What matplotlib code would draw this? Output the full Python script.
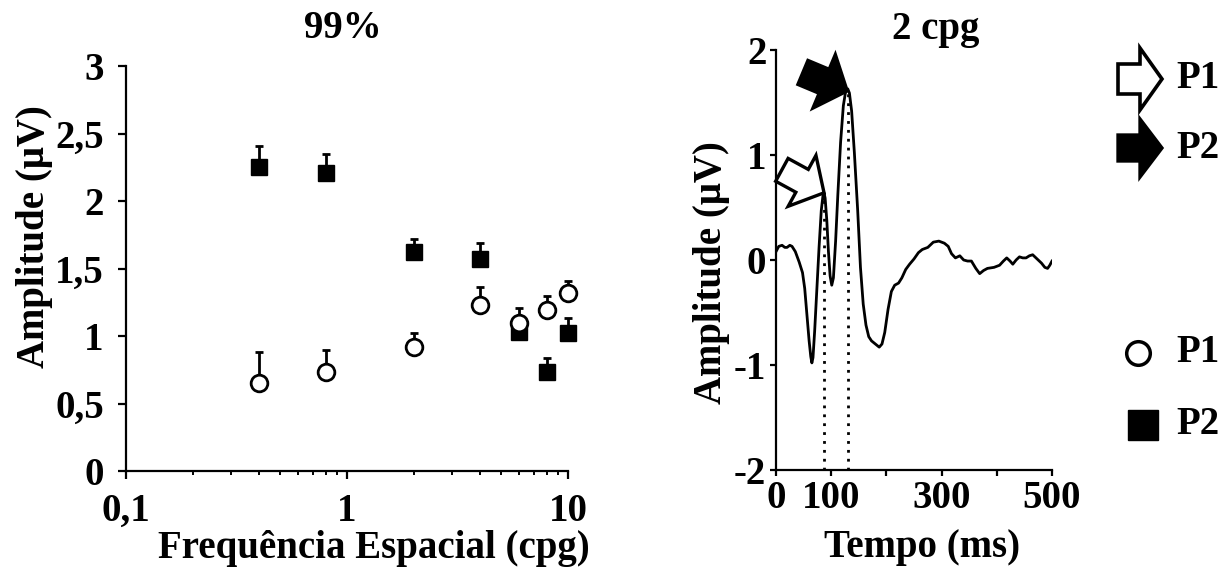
import numpy as np
import matplotlib
matplotlib.use('Agg')
import matplotlib.pyplot as plt
from matplotlib.ticker import FuncFormatter, FixedLocator, NullFormatter
from matplotlib.patches import Polygon
from matplotlib.transforms import Affine2D, ScaledTranslation

plt.rcParams['font.family'] = ['Liberation Serif', 'DejaVu Serif']
plt.rcParams['font.weight'] = 'bold'
plt.rcParams['axes.labelweight'] = 'bold'
plt.rcParams['axes.titleweight'] = 'bold'
plt.rcParams['axes.unicode_minus'] = False

# amplitude vs spatial frequency (99% contrast)
freq = [0.4, 0.8, 2, 4, 6, 8, 10]
p1_amp = [0.65, 0.73, 0.92, 1.23, 1.10, 1.19, 1.32]
p1_err = [0.23, 0.17, 0.10, 0.13, 0.11, 0.11, 0.09]
p2_amp = [2.25, 2.21, 1.62, 1.57, 1.03, 0.73, 1.02]
p2_err = [0.16, 0.14, 0.10, 0.12, 0.10, 0.11, 0.11]

# VEP waveform at 2 cpg
tempo = [0, 5, 11, 16, 20, 25, 29, 35, 42, 48,
         52, 56, 60, 63, 65, 67, 70, 74, 78, 82,
         85, 87, 89, 92, 95, 98, 101, 104, 108, 112,
         117, 122, 126, 130, 133, 137, 142, 148, 153, 158,
         163, 168, 173, 180, 187, 192, 197, 203, 209, 215,
         222, 228, 235, 242, 250, 258, 265, 275, 285, 295,
         305, 312, 318, 325, 333, 340, 347, 354, 362, 369,
         376, 383, 395, 405, 412, 418, 424, 429, 435, 441,
         447, 453, 459, 465, 473, 481, 487, 492, 496, 500]
amp = [0.08, 0.13, 0.14, 0.12, 0.12, 0.14, 0.13, 0.08, -0.02, -0.12,
       -0.27, -0.52, -0.77, -0.92, -0.98, -0.93, -0.68, -0.28, 0.12, 0.47,
       0.61, 0.64, 0.59, 0.38, 0.08, -0.15, -0.24, -0.17, 0.18, 0.62,
       1.12, 1.47, 1.60, 1.63, 1.59, 1.42, 1.02, 0.47, -0.07, -0.42,
       -0.62, -0.73, -0.77, -0.80, -0.83, -0.80, -0.69, -0.47, -0.30, -0.24,
       -0.22, -0.17, -0.09, -0.04, 0.01, 0.07, 0.10, 0.12, 0.17, 0.18,
       0.16, 0.13, 0.06, 0.02, 0.04, 0.00, -0.01, -0.01, -0.08, -0.13,
       -0.10, -0.08, -0.07, -0.05, -0.01, 0.02, -0.01, -0.04, 0.00, 0.03,
       0.02, 0.02, 0.04, 0.05, 0.01, -0.03, -0.07, -0.08, -0.05, -0.01]
p1_lat = 87
p2_lat = 130

fs = 28
W, H = 1231, 571
fig = plt.figure(figsize=(W/100, H/100), dpi=100)

def style_axes(ax, tick_len, pad):
    ax.spines['top'].set_visible(False)
    ax.spines['right'].set_visible(False)
    ax.spines['left'].set_linewidth(1.6)
    ax.spines['bottom'].set_linewidth(1.6)
    ax.tick_params(axis='both', which='major', direction='out', length=tick_len, width=1.6,
                   labelsize=fs, pad=pad)
    ax.tick_params(axis='both', which='minor', direction='out', length=3, width=1.4)

comma = FuncFormatter(lambda v, pos: ('%g' % v).replace('.', ','))

def block_arrow(ax, x, y, angle, face, L=48, hl=25, hw=29, sw=13, lw=2.4):
    # fat block arrow drawn in pixels, tip sitting on (x, y) in data coords
    pts = [(0, 0), (-hl, hw), (-hl, sw), (-L, sw), (-L, -sw), (-hl, -sw), (-hl, -hw)]
    tr = Affine2D().rotate_deg(angle) + ScaledTranslation(x, y, ax.transData)
    ax.add_patch(Polygon(pts, closed=True, transform=tr, fc=face, ec='k', lw=lw,
                         joinstyle='miter', clip_on=False, zorder=5))

# ---- left: amplitude vs spatial frequency ----
ax1 = fig.add_axes([126/W, 1-471/H, 442/W, 405/H])
ax1.set_xscale('log')
ax1.set_xlim(0.1, 10)
ax1.set_ylim(0, 3)
for vals, errs in [(p2_amp, p2_err), (p1_amp, p1_err)]:
    eb = ax1.errorbar(freq, vals, yerr=[np.zeros(len(freq)), errs], fmt='none', ecolor='k',
                      elinewidth=2, capsize=3, capthick=2)
    for a in eb.lines[1] + eb.lines[2]:
        a.set_clip_on(False)
ax1.plot(freq, p2_amp, 's', color='k', ms=12, zorder=3, clip_on=False)
ax1.plot(freq, p1_amp, 'o', mfc='white', mec='k', mew=2, ms=12, zorder=4, clip_on=False)
style_axes(ax1, 6, 10)
ax1.set_yticks(np.arange(0, 3.01, 0.5))
ax1.yaxis.set_major_formatter(comma)
ax1.xaxis.set_major_formatter(comma)
ax1.xaxis.set_minor_formatter(NullFormatter())
ax1.set_title('99%', fontsize=fs, pad=20, x=0.49)
ax1.set_xlabel('Frequência Espacial (cpg)', fontsize=fs)
ax1.xaxis.set_label_coords(0.56, -0.145)
ax1.set_ylabel('Amplitude (\u03bcV)', fontsize=fs)
ax1.yaxis.set_label_coords(-0.165, 0.58)

# ---- right: waveform ----
ax2 = fig.add_axes([776/W, 1-470/H, 276/W, 420/H])
ax2.set_xlim(0, 500)
ax2.set_ylim(-2, 2)
ax2.plot(tempo, amp, color='k', lw=2)
peaks_t = [p1_lat, p2_lat]
peaks_v = [amp[tempo.index(p1_lat)], amp[tempo.index(p2_lat)]]
ax2.vlines(peaks_t, -2, peaks_v, colors='k', linestyles=(0, (1, 2.2)), lw=2)
style_axes(ax2, 4, 3)
ax2.xaxis.set_major_locator(FixedLocator([0, 100, 200, 300, 400, 500]))
ax2.xaxis.set_major_formatter(FuncFormatter(lambda v, pos: '' if v in (200, 400) else '%d' % v))
ax2.set_yticks([-2, -1, 0, 1, 2])
ax2.set_title('2 cpg', fontsize=fs, pad=8, x=0.58)
ax2.set_xlabel('Tempo (ms)', fontsize=fs)
ax2.xaxis.set_label_coords(0.53, -0.14)
ax2.set_ylabel('Amplitude (\u03bcV)', fontsize=fs)
ax2.yaxis.set_label_coords(-0.165, 0.47)

# block arrows pointing at the P1 and P2 peaks
block_arrow(ax2, p1_lat, peaks_v[0], -28.6, 'white')
block_arrow(ax2, p2_lat - 1, peaks_v[1] - 0.02, -22.7, 'black')

# legend column on the right
lg = fig.add_axes([0, 0, 1, 1])
lg.set_xlim(0, W)
lg.set_ylim(H, 0)
lg.axis('off')
block_arrow(lg, 1162, 79, 0, 'white', L=44, hl=22, hw=31, sw=15, lw=2.6)
block_arrow(lg, 1162, 148, 0, 'black', L=44, hl=22, hw=29, sw=13)
lg.plot([1138], [353], 'o', mfc='white', mec='k', mew=2.5, ms=17)
lg.plot([1143], [425], 's', color='k', ms=22)
for y, s in [(79, 'P1'), (148, 'P2'), (353, 'P1'), (425, 'P2')]:
    lg.text(1176, y, s, fontsize=fs, va='center', ha='left')

fig.savefig('out.png', dpi=100)
